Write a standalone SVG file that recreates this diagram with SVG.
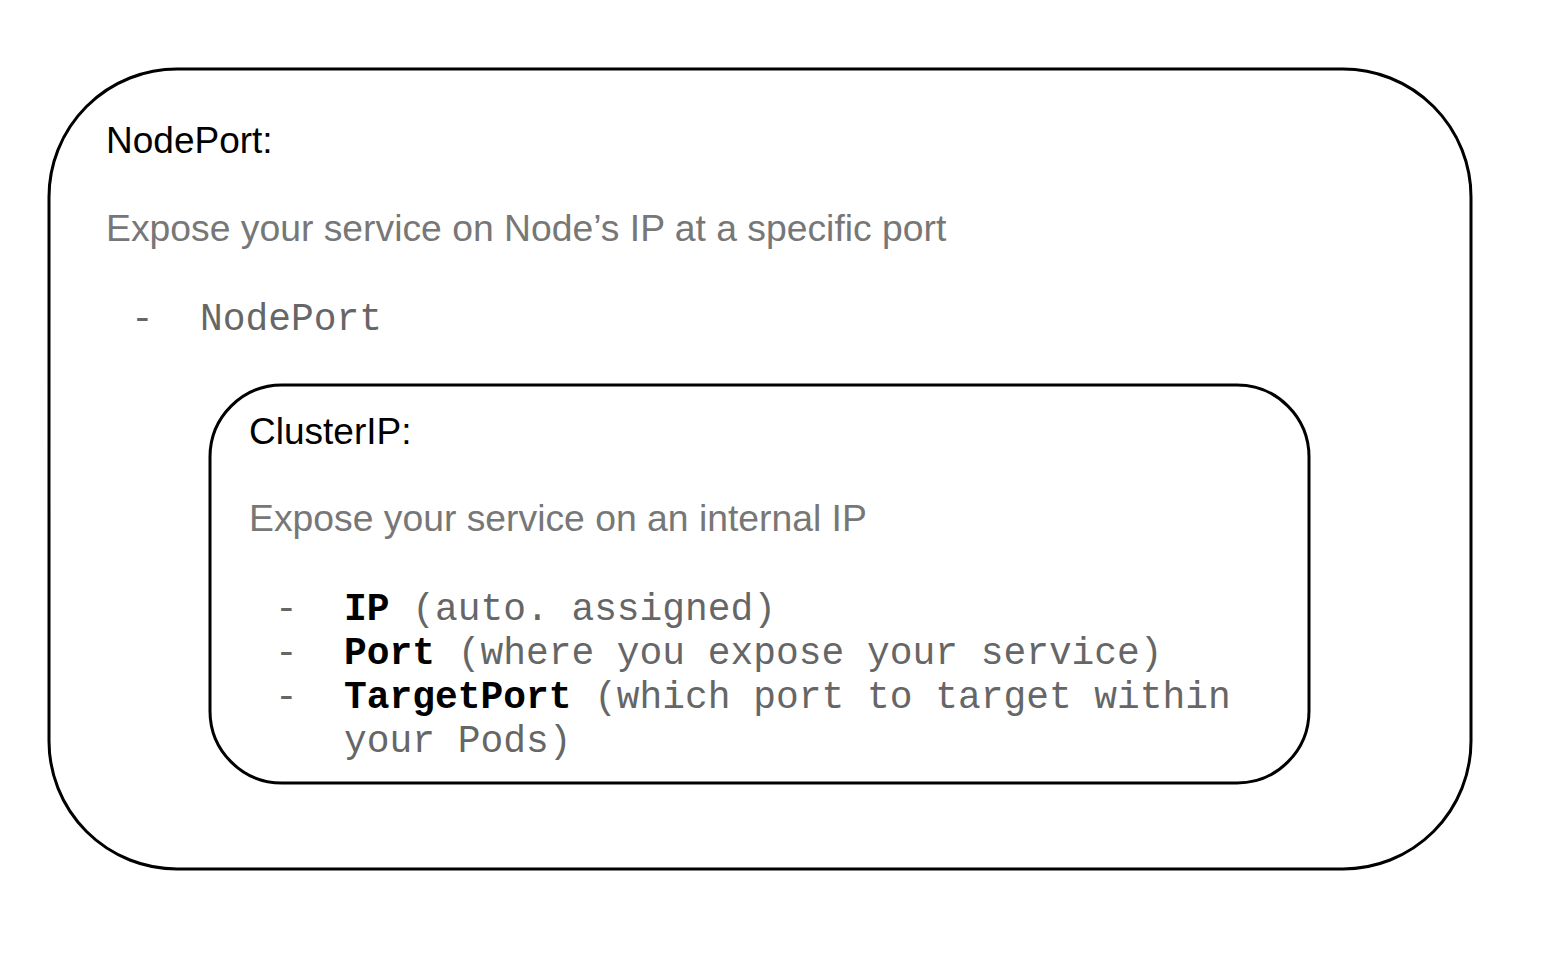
<svg xmlns="http://www.w3.org/2000/svg" width="1542" height="956" viewBox="0 0 1542 956">
<style>
.box{fill:#fff;stroke:#000;stroke-width:3}
.title{font-family:"Liberation Sans",Arial,sans-serif;font-size:37px;fill:#000}
.desc{font-family:"Liberation Sans",Arial,sans-serif;font-size:37.3px;fill:#777}
.mono{font-family:"Liberation Mono","Courier New",monospace;font-size:37.9px;fill:#666}
.b{font-weight:bold;fill:#000}
</style>
<rect width="1542" height="956" fill="#fff"/>
<g id="nodeport">
<rect class="box" x="49" y="69" width="1422" height="800" rx="128" ry="128"/>
<text class="title" x="106" y="153">NodePort:</text>
<text class="desc" x="106" y="241">Expose your service on Node’s IP at a specific port</text>
<text class="mono" x="131" y="330">-</text>
<text class="mono" x="200" y="330">NodePort</text>
</g>
<g id="clusterip">
<rect class="box" x="210" y="385" width="1099" height="398" rx="72" ry="72"/>
<text class="title" x="249" y="444">ClusterIP:</text>
<text class="desc" x="249" y="531">Expose your service on an internal IP</text>
<text class="mono" x="275" y="620">-</text>
<text class="mono" x="275" y="664">-</text>
<text class="mono" x="275" y="708">-</text>
<text class="mono" x="344" y="620"><tspan class="b">IP</tspan> (auto. assigned)</text>
<text class="mono" x="344" y="664"><tspan class="b">Port</tspan> (where you expose your service)</text>
<text class="mono" x="344" y="708"><tspan class="b">TargetPort</tspan> (which port to target within</text>
<text class="mono" x="344" y="752">your Pods)</text>
</g>
<g id="connectors"/>
</svg>
